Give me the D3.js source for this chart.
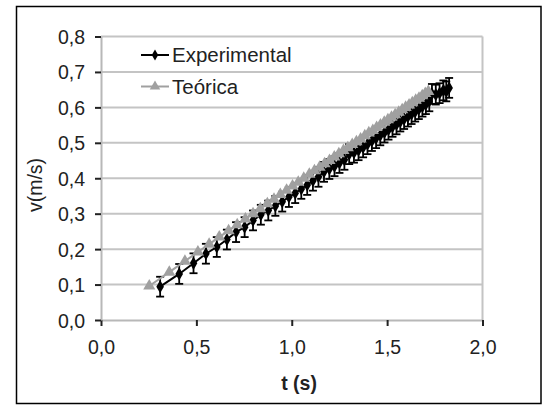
<!DOCTYPE html>
<html lang="pt">
<head>
<meta charset="UTF-8">
<title>v x t</title>
<style>
    body { margin: 0; background: #fff; }
    svg { display: block; font-family: "Liberation Sans", Arial, sans-serif; }
</style>
</head>
<body>
<svg id="chart"></svg>
<script src="https://d3js.org/d3.v7.min.js"></script>
<script>
    // experimental series (t in s, v in m/s)
    var tExp = [0.31, 0.41, 0.485, 0.55, 0.607, 0.66, 0.708, 0.753, 0.797, 0.838, 0.877, 0.914, 0.95, 0.985,
        1.018, 1.05, 1.081, 1.111, 1.14, 1.169, 1.197, 1.224, 1.25, 1.276, 1.301, 1.326, 1.35, 1.374, 1.397,
        1.42, 1.442, 1.464, 1.486, 1.507, 1.528, 1.549, 1.569, 1.589, 1.609, 1.628, 1.647, 1.666, 1.685, 1.703,
        1.721, 1.735, 1.755, 1.775, 1.795, 1.81, 1.825];
    var vExp = [0.094, 0.130, 0.160, 0.187, 0.206, 0.227, 0.248, 0.262, 0.281, 0.297, 0.309, 0.322, 0.334, 0.347,
        0.358, 0.370, 0.381, 0.393, 0.404, 0.418, 0.426, 0.434, 0.443, 0.452, 0.468, 0.472, 0.479, 0.487, 0.496,
        0.505, 0.513, 0.521, 0.529, 0.537, 0.545, 0.552, 0.560, 0.567, 0.574, 0.581, 0.588, 0.595, 0.602, 0.609,
        0.617, 0.638, 0.636, 0.640, 0.648, 0.645, 0.655];
    var errExp = 0.028;

    // theoretical series
    var tTeo = [0.253, 0.358, 0.44, 0.508, 0.567, 0.62, 0.669, 0.714, 0.757, 0.797, 0.835, 0.872, 0.907, 0.94,
        0.973, 1.004, 1.034, 1.063, 1.092, 1.119, 1.146, 1.172, 1.198, 1.223, 1.247, 1.271, 1.294, 1.317, 1.339,
        1.361, 1.383, 1.404, 1.425, 1.445, 1.465, 1.485, 1.504, 1.523, 1.542, 1.561, 1.579, 1.597, 1.615, 1.632,
        1.65, 1.667, 1.684, 1.70, 1.716];
    var vTeo = [0.096, 0.135, 0.166, 0.192, 0.214, 0.234, 0.252, 0.269, 0.285, 0.300, 0.314, 0.328, 0.341, 0.354,
        0.366, 0.378, 0.389, 0.400, 0.411, 0.421, 0.431, 0.441, 0.450, 0.460, 0.469, 0.478, 0.486, 0.495, 0.503,
        0.511, 0.520, 0.528, 0.535, 0.543, 0.550, 0.558, 0.565, 0.572, 0.579, 0.586, 0.593, 0.600, 0.607, 0.613,
        0.620, 0.626, 0.633, 0.639, 0.645];

    var xTicks = [0, 0.5, 1.0, 1.5, 2.0];
    var yTicks = [0, 0.1, 0.2, 0.3, 0.4, 0.5, 0.6, 0.7, 0.8];
    var seriesNames = ["Experimental", "Teórica"];

    var width = 542, height = 405;
    var plotL = 101, plotR = 482.5, plotT = 36.5, plotB = 320;
    var fmt = function (d) { return d3.format(".1f")(d).replace(".", ","); };

    var x = d3.scaleLinear().domain([0, 2]).range([plotL, plotR]);
    var y = d3.scaleLinear().domain([0, 0.8]).range([plotB, plotT]);

    var svg = d3.select("#chart").attr("width", width).attr("height", height);

    // outer frame
    svg.append("rect").attr("x", 16.5).attr("y", 6.5).attr("width", 524.5).attr("height", 397)
        .attr("fill", "#fff").attr("stroke", "#000").attr("stroke-width", 1.5);

    // grid
    svg.append("g").selectAll("line").data(yTicks.slice(1)).enter().append("line")
        .attr("x1", plotL).attr("x2", plotR)
        .attr("y1", function (d) { return y(d); }).attr("y2", function (d) { return y(d); })
        .attr("stroke", "#c4c4c4").attr("stroke-width", 2);
    svg.append("line").attr("x1", plotR).attr("x2", plotR).attr("y1", plotT).attr("y2", plotB)
        .attr("stroke", "#c4c4c4").attr("stroke-width", 2);

    // axes
    var xAxis = svg.append("g").attr("transform", "translate(0," + plotB + ")")
        .call(d3.axisBottom(x).tickValues(xTicks).tickFormat(fmt).tickSizeInner(6).tickSizeOuter(0).tickPadding(14));
    var yAxis = svg.append("g").attr("transform", "translate(" + plotL + ",0)")
        .call(d3.axisLeft(y).tickValues(yTicks).tickFormat(fmt).tickSizeInner(6).tickSizeOuter(0).tickPadding(10));
    [xAxis, yAxis].forEach(function (a) {
        a.select(".domain").attr("stroke", "#b8b8b8").attr("stroke-width", 2);
        a.selectAll(".tick line").attr("stroke", "#222").attr("stroke-width", 2);
        a.selectAll(".tick text").attr("fill", "#222").style("font-size", "19.5px");
    });
    yAxis.selectAll(".tick text").attr("dy", "0.36em");
    xAxis.selectAll(".tick text").attr("dy", "0.72em");

    // axis titles
    svg.append("text").attr("x", 299).attr("y", 390).attr("text-anchor", "middle")
        .style("font-size", "19.5px").style("font-weight", "bold").attr("fill", "#222").text("t (s)");
    svg.append("text").attr("transform", "translate(42,185) rotate(-90)").attr("text-anchor", "middle")
        .style("font-size", "19.5px").attr("fill", "#222").text("v(m/s)");

    var exp = tExp.map(function (t, i) { return [t, vExp[i]]; });
    var teo = tTeo.map(function (t, i) { return [t, vTeo[i]]; });
    var line = d3.line().x(function (d) { return x(d[0]); }).y(function (d) { return y(d[1]); });
    var diamond = d3.symbol().type(d3.symbolDiamond).size(50);
    var triangle = d3.symbol().type(d3.symbolTriangle).size(64);
    var legDiamond = d3.symbol().type(d3.symbolDiamond).size(36);
    var legTriangle = d3.symbol().type(d3.symbolTriangle).size(48);

    // experimental: error bars, line, diamonds
    var eb = svg.append("g").attr("stroke", "#000").attr("stroke-width", 1.8);
    eb.selectAll("line.v").data(exp).enter().append("line")
        .attr("x1", function (d) { return x(d[0]); }).attr("x2", function (d) { return x(d[0]); })
        .attr("y1", function (d) { return y(d[1] - errExp); }).attr("y2", function (d) { return y(d[1] + errExp); });
    [-1, 1].forEach(function (s) {
        eb.selectAll(null).data(exp).enter().append("line")
            .attr("x1", function (d) { return x(d[0]) - 4; }).attr("x2", function (d) { return x(d[0]) + 4; })
            .attr("y1", function (d) { return y(d[1] + s * errExp); }).attr("y2", function (d) { return y(d[1] + s * errExp); });
    });
    svg.append("path").datum(exp).attr("d", line).attr("fill", "none").attr("stroke", "#000").attr("stroke-width", 2);
    svg.append("g").selectAll("path").data(exp).enter().append("path").attr("d", diamond)
        .attr("transform", function (d) { return "translate(" + x(d[0]) + "," + y(d[1]) + ")"; })
        .attr("fill", "#000");

    // theoretical
    svg.append("path").datum(teo).attr("d", line).attr("fill", "none").attr("stroke", "#a0a0a0").attr("stroke-width", 2);
    svg.append("g").selectAll("path").data(teo).enter().append("path").attr("d", triangle)
        .attr("transform", function (d) { return "translate(" + x(d[0]) + "," + y(d[1]) + ")"; })
        .attr("fill", "#a0a0a0");

    // legend
    var legend = svg.append("g");
    var legY = [55, 86.5];
    legend.selectAll("line").data(seriesNames).enter().append("line")
        .attr("x1", 141).attr("x2", 169)
        .attr("y1", function (d, i) { return legY[i]; }).attr("y2", function (d, i) { return legY[i]; })
        .attr("stroke", function (d, i) { return i ? "#a0a0a0" : "#000"; }).attr("stroke-width", 2);
    legend.selectAll("path").data(seriesNames).enter().append("path")
        .attr("d", function (d, i) { return i ? legTriangle() : legDiamond(); })
        .attr("transform", function (d, i) { return "translate(155," + legY[i] + ")"; })
        .attr("fill", function (d, i) { return i ? "#a0a0a0" : "#000"; });
    legend.selectAll("text").data(seriesNames).enter().append("text")
        .attr("x", 172).attr("y", function (d, i) { return legY[i] + 7; })
        .style("font-size", "20.5px").attr("fill", "#222").text(function (d) { return d; });
</script>
</body>
</html>
